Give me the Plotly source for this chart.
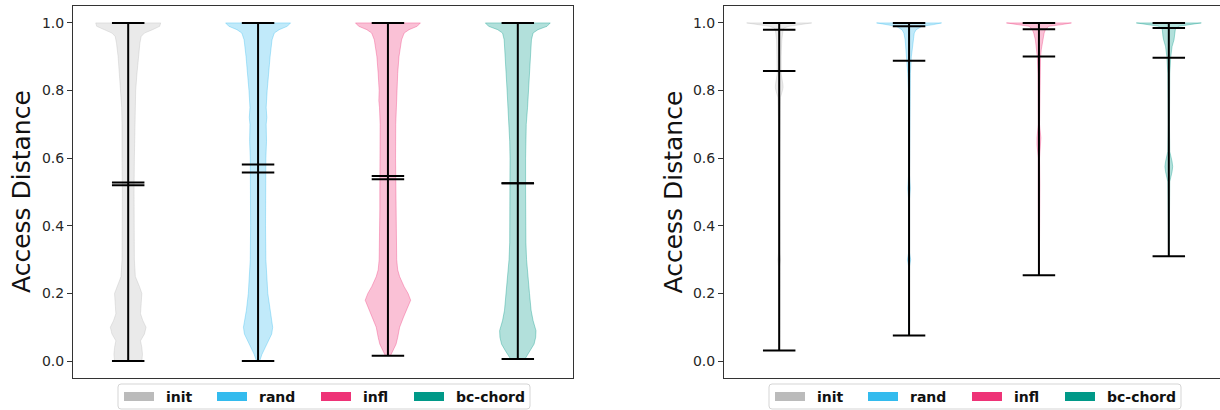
import plotly.graph_objects as go

W, H = 1220, 410

methods = ["init", "rand", "infl", "bc-chord"]
colors = ["#BBBBBB", "#33BBEE", "#EE3377", "#009988"]
positions = [1, 2, 3, 4]
y_ticks = [0.0, 0.2, 0.4, 0.6, 0.8, 1.0]
y_title = "Access Distance"

# ---- summary statistics per panel ----
left_min = [0.0, 0.0, 0.016, 0.006]
left_max = [1.0, 1.0, 1.0, 1.0]
left_mean = [0.528, 0.581, 0.547, 0.526]
left_median = [0.520, 0.558, 0.538, 0.526]

right_min = [0.031, 0.076, 0.254, 0.310]
right_max = [1.0, 1.0, 1.0, 1.0]
right_mean = [0.858, 0.888, 0.901, 0.897]
right_median = [0.980, 0.990, 0.981, 0.985]

# ---- density profiles (level, relative width) ----
left_init_y = [0.0, 0.02, 0.04, 0.06, 0.08, 0.10, 0.12, 0.14, 0.17, 0.20, 0.22, 0.25, 0.30, 0.40,
               0.50, 0.60, 0.65, 0.70, 0.75, 0.80, 0.85, 0.90, 0.94, 0.96, 0.97, 0.98, 0.99, 1.0]
left_init_w = [0.42, 0.44, 0.42, 0.38, 0.50, 0.55, 0.45, 0.38, 0.40, 0.42, 0.35, 0.22, 0.19, 0.18,
               0.18, 0.19, 0.20, 0.19, 0.20, 0.23, 0.27, 0.31, 0.36, 0.40, 0.50, 0.75, 0.97, 1.0]

left_rand_y = [0.0, 0.02, 0.04, 0.06, 0.08, 0.10, 0.12, 0.15, 0.20, 0.25, 0.30, 0.40, 0.50, 0.60,
               0.65, 0.70, 0.72, 0.75, 0.80, 0.85, 0.90, 0.95, 0.97, 0.98, 0.99, 1.0]
left_rand_w = [0.05, 0.12, 0.22, 0.32, 0.42, 0.45, 0.42, 0.36, 0.30, 0.27, 0.24, 0.23, 0.23, 0.24,
               0.26, 0.25, 0.27, 0.25, 0.28, 0.32, 0.37, 0.43, 0.50, 0.65, 0.90, 1.0]

left_infl_y = [0.016, 0.03, 0.05, 0.07, 0.10, 0.13, 0.16, 0.18, 0.20, 0.22, 0.25, 0.27, 0.30, 0.40,
               0.45, 0.50, 0.55, 0.60, 0.70, 0.75, 0.77, 0.80, 0.85, 0.90, 0.95, 0.97, 0.98, 0.99, 1.0]
left_infl_w = [0.08, 0.15, 0.25, 0.30, 0.36, 0.48, 0.62, 0.70, 0.62, 0.50, 0.36, 0.30, 0.27, 0.26,
               0.25, 0.25, 0.23, 0.235, 0.24, 0.26, 0.28, 0.27, 0.30, 0.34, 0.42, 0.50, 0.65, 0.90, 1.0]

left_bc_y = [0.006, 0.03, 0.05, 0.07, 0.09, 0.12, 0.15, 0.20, 0.25, 0.30, 0.35, 0.40, 0.50, 0.60,
             0.65, 0.70, 0.75, 0.80, 0.85, 0.90, 0.95, 0.97, 0.98, 0.99, 1.0]
left_bc_w = [0.22, 0.38, 0.50, 0.55, 0.56, 0.47, 0.41, 0.36, 0.31, 0.27, 0.25, 0.24, 0.24, 0.24,
             0.25, 0.26, 0.30, 0.33, 0.36, 0.38, 0.42, 0.47, 0.62, 0.90, 1.0]

right_init_y = [0.031, 0.10, 0.28, 0.30, 0.32, 0.50, 0.70, 0.78, 0.80, 0.81, 0.82, 0.85, 0.90,
                0.95, 0.98, 0.985, 0.99, 0.995, 1.0]
right_init_w = [0.01, 0.01, 0.02, 0.04, 0.02, 0.015, 0.02, 0.04, 0.10, 0.12, 0.11, 0.06, 0.06,
                0.08, 0.12, 0.15, 0.30, 0.60, 1.0]

right_rand_y = [0.076, 0.28, 0.30, 0.32, 0.48, 0.51, 0.55, 0.80, 0.85, 0.90, 0.92, 0.95, 0.97,
                0.98, 0.99, 0.995, 1.0]
right_rand_w = [0.01, 0.015, 0.05, 0.015, 0.015, 0.04, 0.015, 0.02, 0.04, 0.07, 0.09, 0.12, 0.16,
                0.22, 0.40, 0.75, 1.0]

right_infl_y = [0.254, 0.48, 0.50, 0.52, 0.60, 0.64, 0.66, 0.70, 0.85, 0.90, 0.92, 0.95, 0.97,
                0.98, 0.99, 0.995, 1.0]
right_infl_w = [0.01, 0.02, 0.04, 0.03, 0.02, 0.06, 0.06, 0.02, 0.03, 0.05, 0.07, 0.11, 0.16,
                0.20, 0.30, 0.70, 1.0]

right_bc_y = [0.310, 0.40, 0.53, 0.56, 0.575, 0.59, 0.62, 0.70, 0.85, 0.90, 0.93, 0.95, 0.96,
              0.97, 0.98, 0.99, 0.995, 1.0]
right_bc_w = [0.01, 0.015, 0.03, 0.10, 0.12, 0.10, 0.03, 0.02, 0.03, 0.06, 0.10, 0.16, 0.18,
              0.20, 0.20, 0.30, 0.60, 1.0]

left_profiles = [(left_init_y, left_init_w), (left_rand_y, left_rand_w),
                 (left_infl_y, left_infl_w), (left_bc_y, left_bc_w)]
right_profiles = [(right_init_y, right_init_w), (right_rand_y, right_rand_w),
                  (right_infl_y, right_infl_w), (right_bc_y, right_bc_w)]

BODY_HALF = 0.25   # half of the violin width (widths=0.5)
CAP_HALF = 0.125   # half length of the stat lines


def rgba(hex_color, a):
    h = hex_color.lstrip("#")
    r, g, b = int(h[0:2], 16), int(h[2:4], 16), int(h[4:6], 16)
    return f"rgba({r},{g},{b},{a})"


def px_x(x):
    return x / W


def px_y(y):
    return 1 - y / H


fig = go.Figure()

panels = [
    ("x", "y", left_profiles, left_min, left_max, left_mean, left_median),
    ("x2", "y2", right_profiles, right_min, right_max, right_mean, right_median),
]

for xa, ya, profiles, mins, maxs, means, medians in panels:
    # violin bodies
    for pos, col, (lv, wd) in zip(positions, colors, profiles):
        xs = [pos + BODY_HALF * w for w in wd] + [pos - BODY_HALF * w for w in wd[::-1]]
        ys = list(lv) + list(lv[::-1])
        fig.add_trace(go.Scatter(
            x=xs, y=ys, xaxis=xa, yaxis=ya, mode="lines", fill="toself",
            fillcolor=rgba(col, 0.3), line=dict(color=rgba(col, 0.35), width=1),
            hoverinfo="skip", showlegend=False))
    # extrema / mean / median lines
    lx, ly = [], []
    for pos, lo, hi, mu, md in zip(positions, mins, maxs, means, medians):
        lx += [pos, pos, None]
        ly += [lo, hi, None]
        for v in (lo, hi, mu, md):
            lx += [pos - CAP_HALF, pos + CAP_HALF, None]
            ly += [v, v, None]
    fig.add_trace(go.Scatter(
        x=lx, y=ly, xaxis=xa, yaxis=ya, mode="lines",
        line=dict(color="black", width=2), hoverinfo="skip", showlegend=False))

# axes geometry (pixels)
top_px, bottom_px = 6, 378
left_axes = (73, 573)
right_axes = (724, 1224)
unit_px = (left_axes[1] - left_axes[0]) / 3.85
x_lo = 0.575

axis_font = dict(family="DejaVu Sans", size=14, color="#262626")
common_y = dict(range=[-0.05, 1.05], tickvals=y_ticks, ticktext=[f"{v:.1f}" for v in y_ticks],
                ticks="outside", ticklen=5, tickwidth=1, tickcolor="#333",
                showgrid=False, zeroline=False, showline=True, linecolor="#333", linewidth=1,
                tickfont=axis_font, automargin=False,
                domain=[px_y(bottom_px), px_y(top_px)])
common_x = dict(showticklabels=False, ticks="", showgrid=False, zeroline=False,
                showline=True, linecolor="#333", linewidth=1, mirror=True, automargin=False)

fig.update_layout(
    xaxis=dict(**common_x, domain=[px_x(left_axes[0]), px_x(left_axes[1])],
               range=[x_lo, x_lo + 3.85]),
    yaxis=dict(**common_y, anchor="x", mirror=True),
    xaxis2=dict(**common_x, domain=[px_x(right_axes[0]), 1.0], anchor="y2",
                range=[x_lo, x_lo + (W - right_axes[0]) / unit_px]),
    yaxis2=dict(**common_y, anchor="x2", mirror=False),
)

# y-axis titles
annotations = []
for cx in (21, 672.5):
    annotations.append(dict(
        text=y_title, x=px_x(cx), y=px_y((top_px + bottom_px) / 2), xref="paper", yref="paper",
        xanchor="center", yanchor="middle", textangle=-90, showarrow=False,
        font=dict(family="DejaVu Sans", size=25, color="#111")))

# legends below each panel
shapes = []
patch_offsets = [-199, -106, -2, 91]
box_half = (-205, 207)
box_top, box_bot = 384, 409
patch_top, patch_bot = 392, 401
r = 3
for ax_l, ax_r in (left_axes, right_axes):
    c = (ax_l + ax_r) / 2
    x0, x1 = c + box_half[0], c + box_half[1]
    y0, y1 = box_top, box_bot
    path = (f"M {px_x(x0 + r)},{px_y(y0)} L {px_x(x1 - r)},{px_y(y0)} "
            f"Q {px_x(x1)},{px_y(y0)} {px_x(x1)},{px_y(y0 + r)} "
            f"L {px_x(x1)},{px_y(y1 - r)} Q {px_x(x1)},{px_y(y1)} {px_x(x1 - r)},{px_y(y1)} "
            f"L {px_x(x0 + r)},{px_y(y1)} Q {px_x(x0)},{px_y(y1)} {px_x(x0)},{px_y(y1 - r)} "
            f"L {px_x(x0)},{px_y(y0 + r)} Q {px_x(x0)},{px_y(y0)} {px_x(x0 + r)},{px_y(y0)} Z")
    shapes.append(dict(type="path", path=path, xref="paper", yref="paper",
                       line=dict(color="#d5d5d5", width=1), fillcolor="rgba(255,255,255,0.8)"))
    for name, col, off in zip(methods, colors, patch_offsets):
        px0 = c + off
        shapes.append(dict(type="rect", xref="paper", yref="paper",
                           x0=px_x(px0), x1=px_x(px0 + 30), y0=px_y(patch_bot), y1=px_y(patch_top),
                           line=dict(width=0), fillcolor=col))
        annotations.append(dict(
            text=f"<b>{name}</b>", x=px_x(px0 + 40), y=px_y((patch_top + patch_bot) / 2),
            xref="paper", yref="paper", xanchor="left", yanchor="middle", showarrow=False,
            font=dict(family="DejaVu Sans", size=14, color="#111")))

fig.update_layout(
    width=W, height=H, margin=dict(l=0, r=0, t=0, b=0),
    paper_bgcolor="white", plot_bgcolor="white",
    showlegend=False, annotations=annotations, shapes=shapes,
)

fig.write_html("out.html", config={"displayModeBar": False})
